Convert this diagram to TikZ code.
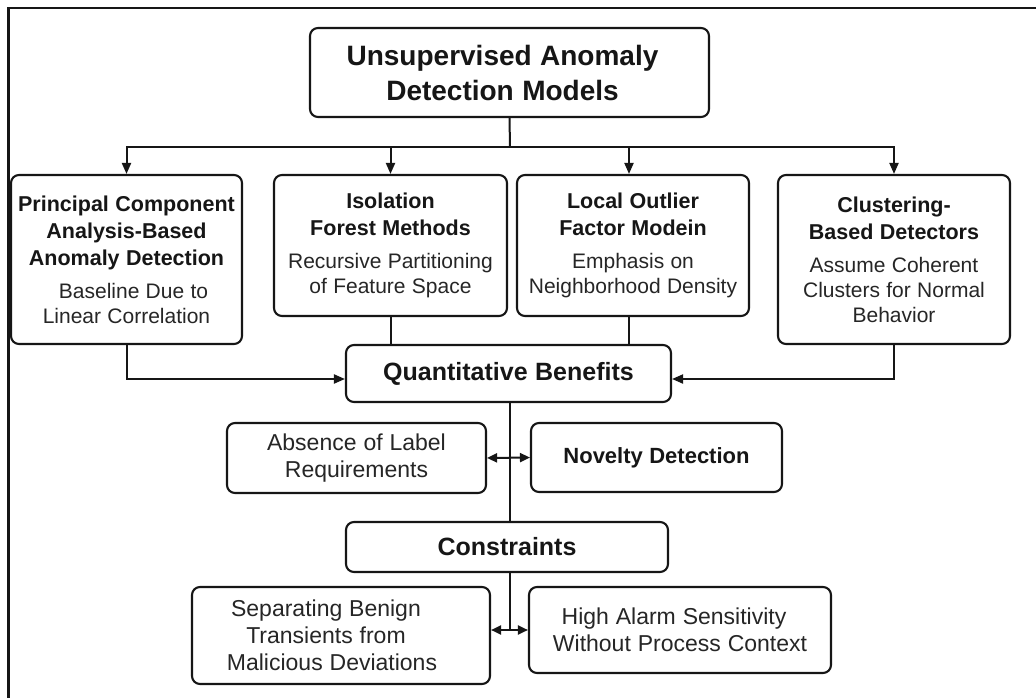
\documentclass[tikz,border=0pt]{standalone}
\usepackage{fontspec}
\setmainfont{Liberation Sans}
\usetikzlibrary{arrows.meta,calc}

\definecolor{ink}{HTML}{161616}
\definecolor{subink}{HTML}{262626}

% font sizes for the different text levels (fixed word spaces)
\newcommand\wsp{\spaceskip=0.3em\relax\xspaceskip=0.3em\relax}
\newcommand\fTitle{\bfseries\fontsize{28}{35}\selectfont\wsp}
\newcommand\fHead{\bfseries\fontsize{21.5}{27}\selectfont\wsp}
\newcommand\fSub{\color{subink}\mdseries\fontsize{21}{25}\selectfont\wsp}
\newcommand\fMid{\bfseries\fontsize{25}{30}\selectfont\wsp}
\newcommand\fNote{\color{subink}\mdseries\fontsize{23}{27}\selectfont\wsp}

\tikzset{
  box/.style={draw=ink, line width=2.1pt, rounded corners=8pt, fill=white,
              align=center, inner sep=0pt, text=ink},
  link/.style={draw=ink, line width=2pt},
  arrow/.style={link, -{Triangle[length=11pt,width=9pt]}},
  twoway/.style={link, {Triangle[length=10pt,width=9pt]}-{Triangle[length=10pt,width=9pt]}},
}

\begin{document}
\begin{tikzpicture}[x=1pt, y=-1pt]
\useasboundingbox (0,0) rectangle (1036,698);

% outer frame (open to the right and bottom)
\draw[ink, line width=2.4pt] (8.6,702) -- (8.6,7.8) -- (1040,7.8);

% root
\node[box, minimum width=399pt, minimum height=89pt, text width=390pt] (top) at (509.5,72.5)
  {\fTitle\hspace*{-14pt}Unsupervised Anomaly\\\hspace*{-14pt}Detection Models\par};

% model families
\node[box, minimum width=231pt, minimum height=169pt, text width=229pt] (pca) at (126.5,259.5)
  {\fHead Principal Component\\Analysis-Based\\Anomaly Detection\par\vspace{8pt}%
   \fSub\hspace*{14pt}Baseline Due to\\Linear Correlation\par};
\node[box, minimum width=233pt, minimum height=141pt, text width=229pt] (iso) at (390.5,245.5)
  {\fHead Isolation\\Forest Methods\par\vspace{8pt}%
   \fSub Recursive Partitioning\\of Feature Space\par};
\node[box, minimum width=232pt, minimum height=141pt, text width=229pt] (lof) at (633,245.5)
  {\fHead Local Outlier\\Factor Modein\par\vspace{8pt}%
   \fSub Emphasis on\\Neighborhood Density\par};
\node[box, minimum width=232pt, minimum height=169pt, text width=229pt] (clu) at (894,259.5)
  {\fHead Clustering-\\Based Detectors\par\vspace{8pt}%
   \fSub Assume Coherent\\Clusters for Normal\\Behavior\par};

% benefits
\node[box, minimum width=325pt, minimum height=57pt, text width=320pt] (quant) at (508.5,373.5)
  {\fMid Quantitative Benefits\par};
\node[box, minimum width=259pt, minimum height=70pt, text width=255pt] (absence) at (356.5,458)
  {\fNote Absence of Label\\Requirements\par};
\node[box, minimum width=251pt, minimum height=69pt, text width=248pt] (novelty) at (656.5,457.5)
  {\fHead\fontsize{22}{27}\selectfont Novelty Detection\par};

% constraints
\node[box, minimum width=322pt, minimum height=50pt, text width=318pt] (cons) at (507,547)
  {\fMid Constraints\par};
\node[box, minimum width=298pt, minimum height=97pt, text width=295pt] (sep) at (341,635.5)
  {\fNote\hspace*{-30pt}Separating Benign\\\hspace*{-30pt}Transients from\\\hspace*{-18pt}Malicious Deviations\par};
\node[box, minimum width=302pt, minimum height=86pt, text width=298pt] (alarm) at (680,630)
  {\fNote\hspace*{-12pt}High Alarm Sensitivity\\Without Process Context\par};

% fan-out from the root
\coordinate (bus) at (510,147);
\draw[link] (top.south) -- (bus);
\draw[arrow] (bus) -| (pca.north);
\draw[arrow] (bus) -| (iso.north);
\draw[arrow] (bus) -| ([xshift=-4pt]lof.north);
\draw[arrow] (bus) -| (clu.north);

% families feeding the benefits box
\draw[arrow] (pca.south) |- ([yshift=-5.5pt]quant.west);
\draw[arrow] (clu.south) |- ([yshift=-5.5pt]quant.east);
\draw[link] (iso.south) -- (iso.south |- quant.north);
\draw[link] ([xshift=-4pt]lof.south) -- ([xshift=-4pt]lof.south |- quant.north);

% central spine with side branches
\draw[link] (top.south |- quant.south) -- (top.south |- cons.north);
\draw[twoway] (absence.east) -- (novelty.west);
\draw[link] (top.south |- cons.south) -- (top.south |- alarm.west);
\draw[twoway] (sep.east |- alarm.west) -- (alarm.west);
\end{tikzpicture}
\end{document}
